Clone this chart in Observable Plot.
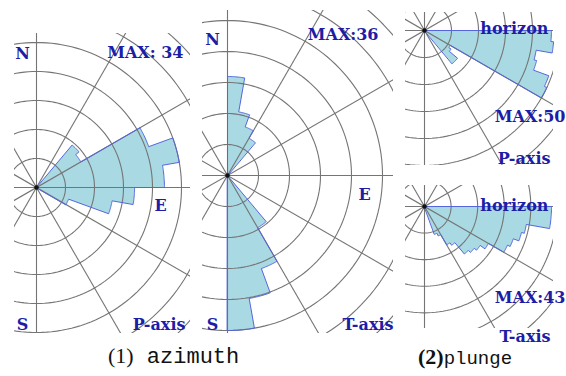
<!DOCTYPE html>
<html><head><meta charset="utf-8">
<script src="https://cdn.jsdelivr.net/npm/d3@7"></script>
<script src="https://cdn.jsdelivr.net/npm/@observablehq/plot@0.6"></script>
<style>
body{margin:0;background:#fff;}
#wrap{position:relative;width:566px;height:376px;overflow:hidden;background:#fff;}
.panel{position:absolute;}
.cap{position:absolute;white-space:nowrap;color:#111;line-height:1;}
.cap .n{font-family:"Liberation Serif","DejaVu Serif",serif;}
.cap .w{font-family:"Liberation Mono","DejaVu Sans Mono",monospace;}
</style></head><body><div id="wrap"></div>
<script>
// ---------- data ----------
const azimuthBinWidth = 10;   // degrees
const plungeBinWidth = 5;     // degrees

// (1) azimuth, P-axis : bin start (deg from N, clockwise) and counts
const pAzimuthStart = [40, 50, 60, 70, 80, 90, 100, 110];
const pAzimuthCount = [13, 12, 28, 34, 30, 23, 18, 8];
// (1) azimuth, T-axis
const tAzimuthStart = [0, 10, 20, 30, 140, 150, 160, 170];
const tAzimuthCount = [23, 15, 12, 10, 14, 23, 29, 36];
// (2) plunge, P-axis : bin start (deg below horizon) and counts
const pPlungeStart = [0, 5, 10, 15, 20, 25, 30, 35, 40, 45];
const pPlungeCount = [47, 48, 42, 43, 49, 50, 11, 12, 16, 16];
// (2) plunge, T-axis
const tPlungeStart = [0, 5, 10, 15, 20, 25, 30, 35, 40, 45, 50, 55, 60, 65];
const tPlungeCount = [43, 43, 35, 34, 32, 31, 25, 23, 22, 21, 16, 15, 11, 10];

const maxLabels = ["MAX: 34", "MAX:36", "MAX:50", "MAX:43"];
const dirLabels = ["N", "E", "S"];
const axisLabels = ["P-axis", "T-axis"];
const horizonLabel = "horizon";
const captions = [["(1)", " azimuth"], ["(2)", "plunge"]];

// ---------- helpers ----------
const rad = d => d * Math.PI / 180;
function rosePolygons(starts, counts, width, toTheta) {
  const bins = starts.map((s, i) => ({s, c: counts[i]})).filter(b => b.c > 0).sort((a, b) => a.s - b.s);
  const runs = [];
  let cur = null;
  for (const b of bins) {
    if (cur && Math.abs(cur[cur.length - 1].s + width - b.s) < 1e-9) cur.push(b);
    else { cur = [b]; runs.push(cur); }
  }
  const pts = [];
  runs.forEach((run, ri) => {
    pts.push({x: 0, y: 0, run: ri});
    for (const b of run) {
      for (let a = b.s; a <= b.s + width + 1e-9; a += 0.5) {
        const t = rad(toTheta(a));
        pts.push({x: b.c * Math.cos(t), y: b.c * Math.sin(t), run: ri});
      }
    }
  });
  return pts;
}
function rings(step, n) {
  const pts = [];
  for (let k = 1; k <= n; k++)
    for (let a = 0; a <= 360; a += 2)
      pts.push({x: k * step * Math.cos(rad(a)), y: k * step * Math.sin(rad(a)), k});
  return pts;
}
const spokes = [0, 30, 60, 90, 120, 150];

const textColor = "#1d1da6";
const gridColor = "#757575";
const fillColor = "#a9d9e3";
const edgeColor = "#5566dd";

function panel(cfg) {
  const {left, top, right, bottom, cx, cy, k, ringStep, nRings, poly, labels} = cfg;
  const w = right - left, h = bottom - top;
  const R = 2000 / k;
  const marks = [
    Plot.line(poly, {x: "x", y: "y", z: "run", curve: "linear-closed", fill: fillColor, stroke: "none"}),
    Plot.line(rings(ringStep, nRings), {x: "x", y: "y", z: "k", stroke: gridColor, strokeWidth: 1.1, clip: true}),
    Plot.link(spokes, {x1: d => -R * Math.cos(rad(d)), y1: d => -R * Math.sin(rad(d)),
                       x2: d => R * Math.cos(rad(d)), y2: d => R * Math.sin(rad(d)),
                       stroke: gridColor, strokeWidth: 1.1, clip: true}),
    Plot.line(poly, {x: "x", y: "y", z: "run", curve: "linear-closed", fill: "none", stroke: edgeColor, strokeWidth: 1}),
    Plot.dot([0], {x: () => 0, y: () => 0, r: 2.2, fill: "#111", stroke: "none"})
  ];
  for (const L of labels) {
    marks.push(Plot.text([L.text], {text: d => d, frameAnchor: "top-left", dx: L.x - left, dy: L.y - top,
      textAnchor: L.anchor, fill: textColor, fontFamily: "DejaVu Serif", fontWeight: "bold", fontSize: L.size || 16}));
  }
  const svg = Plot.plot({
    width: w, height: h, margin: 0,
    x: {domain: [(left - cx) / k, (right - cx) / k], axis: null},
    y: {domain: [(cy - bottom) / k, (cy - top) / k], axis: null},
    style: {background: "transparent", overflow: "visible"},
    marks
  });
  svg.classList.add("panel");
  svg.style.left = left + "px";
  svg.style.top = top + "px";
  svg.style.position = "absolute";
  return svg;
}

const wrap = document.getElementById("wrap");
const azTheta = a => 90 - a;
const plTheta = p => -p;

wrap.appendChild(panel({
  left: 14, top: 33, right: 190, bottom: 333, cx: 36, cy: 187, k: 145 / 34, ringStep: 34 / 5, nRings: 8,
  poly: rosePolygons(pAzimuthStart, pAzimuthCount, azimuthBinWidth, azTheta),
  labels: [
    {text: dirLabels[0], x: 22, y: 47, anchor: "middle"},
    {text: maxLabels[0], x: 183, y: 46, anchor: "end"},
    {text: dirLabels[1], x: 160, y: 199, anchor: "middle"},
    {text: dirLabels[2], x: 22, y: 318, anchor: "middle"},
    {text: axisLabels[0], x: 185, y: 318, anchor: "end"}
  ]
}));
wrap.appendChild(panel({
  left: 202, top: 10, right: 393, bottom: 333, cx: 227, cy: 175, k: 155 / 36, ringStep: 36 / 5, nRings: 8,
  poly: rosePolygons(tAzimuthStart, tAzimuthCount, azimuthBinWidth, azTheta),
  labels: [
    {text: dirLabels[0], x: 212, y: 33, anchor: "middle"},
    {text: maxLabels[1], x: 378, y: 28, anchor: "end"},
    {text: dirLabels[1], x: 364, y: 188, anchor: "middle"},
    {text: dirLabels[2], x: 212, y: 318, anchor: "middle"},
    {text: axisLabels[1], x: 393, y: 318, anchor: "end"}
  ]
}));
wrap.appendChild(panel({
  left: 405, top: 12, right: 553, bottom: 165, cx: 424, cy: 30, k: 135 / 50, ringStep: 10, nRings: 8,
  poly: rosePolygons(pPlungeStart, pPlungeCount, plungeBinWidth, plTheta),
  labels: [
    {text: horizonLabel, x: 548, y: 22, anchor: "end"},
    {text: maxLabels[2], x: 565, y: 110, anchor: "end"},
    {text: axisLabels[0], x: 550, y: 152, anchor: "end"}
  ]
}));
wrap.appendChild(panel({
  left: 405, top: 185, right: 553, bottom: 328, cx: 424, cy: 206, k: 127 / 43, ringStep: 9, nRings: 8,
  poly: rosePolygons(tPlungeStart, tPlungeCount, plungeBinWidth, plTheta),
  labels: [
    {text: horizonLabel, x: 548, y: 199, anchor: "end"},
    {text: maxLabels[3], x: 565, y: 291, anchor: "end"},
    {text: axisLabels[1], x: 550, y: 330, anchor: "end"}
  ]
}));

const capPos = [{left: 108, top: 345, size: 22}, {left: 418, top: 346, size: 19}];
captions.forEach((c, i) => {
  const d = document.createElement("div");
  d.className = "cap";
  d.style.left = capPos[i].left + "px";
  d.style.top = capPos[i].top + "px";
  d.style.fontSize = capPos[i].size + "px";
  const a = document.createElement("span"); a.className = "n"; a.textContent = c[0];
  if (i === 1) { a.style.fontWeight = "bold"; a.style.fontSize = "22px"; }
  const b = document.createElement("span"); b.className = "w"; b.textContent = c[1];
  d.appendChild(a); d.appendChild(b);
  wrap.appendChild(d);
});
</script></body></html>
